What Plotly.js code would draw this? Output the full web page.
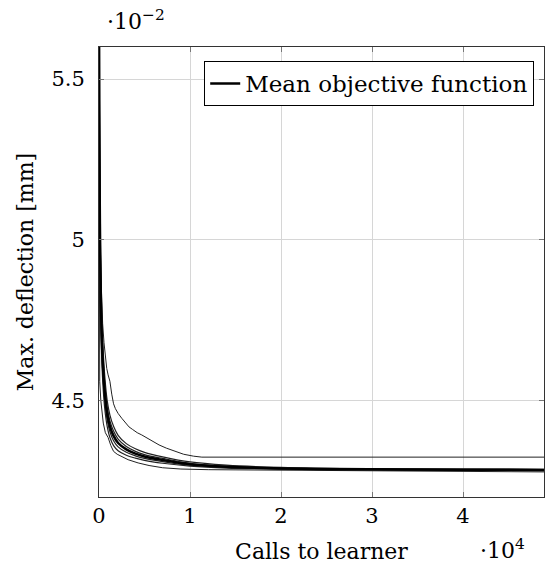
<!DOCTYPE html>
<html>
<head>
<meta charset="utf-8">
<script src="https://cdn.plot.ly/plotly-3.0.1.min.js"></script>
<style>html,body{margin:0;padding:0;background:#fff;}#chart{width:549px;height:567px;}</style>
</head>
<body>
<div id="chart"></div>
<script>
// Calls to learner (x) and max. deflection in units of 1e-2 mm (y)
const meanX = [0, 50, 100, 200, 300, 450, 650, 900, 1200, 1600, 2100, 3000, 4000, 5000, 7000, 10000, 14000, 20000, 30000, 40000, 49000];
const meanY = [5.70, 5.30, 5.05, 4.82, 4.70, 4.60, 4.52, 4.46, 4.42, 4.39, 4.368, 4.348, 4.335, 4.326, 4.315, 4.302, 4.294, 4.289, 4.286, 4.285, 4.284];
const bandA = [5.80, 5.40, 5.14, 4.90, 4.77, 4.66, 4.57, 4.50, 4.455, 4.42, 4.392, 4.366, 4.350, 4.339, 4.325, 4.309, 4.299, 4.292, 4.288, 4.287, 4.286];
const bandB = [5.75, 5.35, 5.10, 4.86, 4.74, 4.63, 4.545, 4.48, 4.437, 4.405, 4.38, 4.357, 4.342, 4.332, 4.320, 4.305, 4.296, 4.290, 4.287, 4.286, 4.285];
const bandC = [5.65, 5.25, 5.00, 4.78, 4.66, 4.57, 4.495, 4.44, 4.403, 4.375, 4.356, 4.339, 4.328, 4.320, 4.310, 4.299, 4.292, 4.288, 4.285, 4.284, 4.283];
const bandD = [5.60, 5.20, 4.95, 4.74, 4.63, 4.54, 4.47, 4.42, 4.385, 4.36, 4.344, 4.330, 4.321, 4.314, 4.305, 4.296, 4.290, 4.287, 4.284, 4.283, 4.282];

const upperX = [0, 60, 120, 200, 300, 400, 550, 700, 850, 1000, 1200, 1400, 1600, 1800, 2100, 2500, 2900, 3300, 3700, 4200, 4700, 5300, 5900, 6600, 7400, 8300, 9300, 10400, 11300, 49000];
const upperY = [5.80, 5.20, 5.02, 4.90, 4.80, 4.74, 4.68, 4.63, 4.60, 4.58, 4.56, 4.52, 4.49, 4.475, 4.46, 4.445, 4.43, 4.418, 4.41, 4.40, 4.393, 4.383, 4.372, 4.362, 4.352, 4.342, 4.333, 4.327, 4.324, 4.324];

const lowerX = [0, 30, 80, 200, 350, 470, 700, 1000, 1300, 1600, 2000, 2500, 3200, 4300, 5500, 7000, 9000, 12000, 20000, 30000, 40000, 49000];
const lowerY = [5.40, 4.80, 4.56, 4.50, 4.46, 4.43, 4.40, 4.385, 4.36, 4.342, 4.333, 4.325, 4.316, 4.306, 4.298, 4.291, 4.287, 4.285, 4.283, 4.281, 4.279, 4.278];

const xTickVals = [0, 10000, 20000, 30000, 40000];
const xTickText = ['0', '1', '2', '3', '4'];
const yTickVals = [4.5, 5, 5.5];
const yTickText = ['4.5', '5', '5.5'];

const FONT = 'DejaVu Serif';
const thin = {color: '#222', width: 1};
const band = {color: '#222', width: 1.2, shape: 'spline'};

const traces = [
  {x: upperX, y: upperY, mode: 'lines', line: thin, showlegend: false, hoverinfo: 'skip'},
  {x: lowerX, y: lowerY, mode: 'lines', line: thin, showlegend: false, hoverinfo: 'skip'},
  {x: meanX, y: bandA, mode: 'lines', line: band, showlegend: false, hoverinfo: 'skip'},
  {x: meanX, y: bandB, mode: 'lines', line: band, showlegend: false, hoverinfo: 'skip'},
  {x: meanX, y: bandC, mode: 'lines', line: band, showlegend: false, hoverinfo: 'skip'},
  {x: meanX, y: bandD, mode: 'lines', line: band, showlegend: false, hoverinfo: 'skip'},
  {x: meanX, y: meanY, mode: 'lines', name: 'Mean objective function', line: {color: '#000', width: 2.5, shape: 'spline'}}
];

const layout = {
  width: 549, height: 567,
  margin: {l: 99, r: 5, t: 47, b: 70, pad: 0},
  paper_bgcolor: '#fff', plot_bgcolor: '#fff',
  font: {family: FONT, size: 22, color: '#000'},
  showlegend: true,
  legend: {
    x: 0.978, y: 0.969, xanchor: 'right', yanchor: 'top',
    bgcolor: '#fff', bordercolor: '#000', borderwidth: 1,
    font: {family: FONT, size: 23, color: '#000'}
  },
  xaxis: {
    range: [0, 48900], tickvals: xTickVals, ticktext: xTickText,
    showgrid: true, gridcolor: '#d6d6d6', gridwidth: 1, zeroline: false,
    showline: true, linecolor: '#333', linewidth: 1, mirror: 'ticks',
    ticks: 'inside', ticklen: 5, tickcolor: '#777', ticklabelstandoff: 0,
    tickfont: {family: FONT, size: 21},
    title: {text: 'Calls to learner', font: {family: FONT, size: 22}, standoff: 16}
  },
  yaxis: {
    range: [4.2, 5.6], tickvals: yTickVals, ticktext: yTickText,
    showgrid: true, gridcolor: '#d6d6d6', gridwidth: 1, zeroline: false,
    showline: true, linecolor: '#333', linewidth: 1, mirror: 'ticks',
    ticks: 'inside', ticklen: 5, tickcolor: '#777', ticklabelstandoff: 9,
    tickfont: {family: FONT, size: 21},
    title: {text: 'Max. deflection [mm]', font: {family: FONT, size: 22}, standoff: 11}
  },
  annotations: [
    {xref: 'paper', yref: 'paper', x: 0.013, y: 1.095, xanchor: 'left', yanchor: 'top',
     text: '·10<sup>−2</sup>', showarrow: false, font: {family: FONT, size: 22}},
    {xref: 'paper', yref: 'paper', x: 0.962, y: -0.08, xanchor: 'right', yanchor: 'top',
     text: '·10<sup>4</sup>', showarrow: false, font: {family: FONT, size: 22}}
  ]
};

Plotly.newPlot('chart', traces, layout, {displayModeBar: false, staticPlot: true});
</script>
</body>
</html>
